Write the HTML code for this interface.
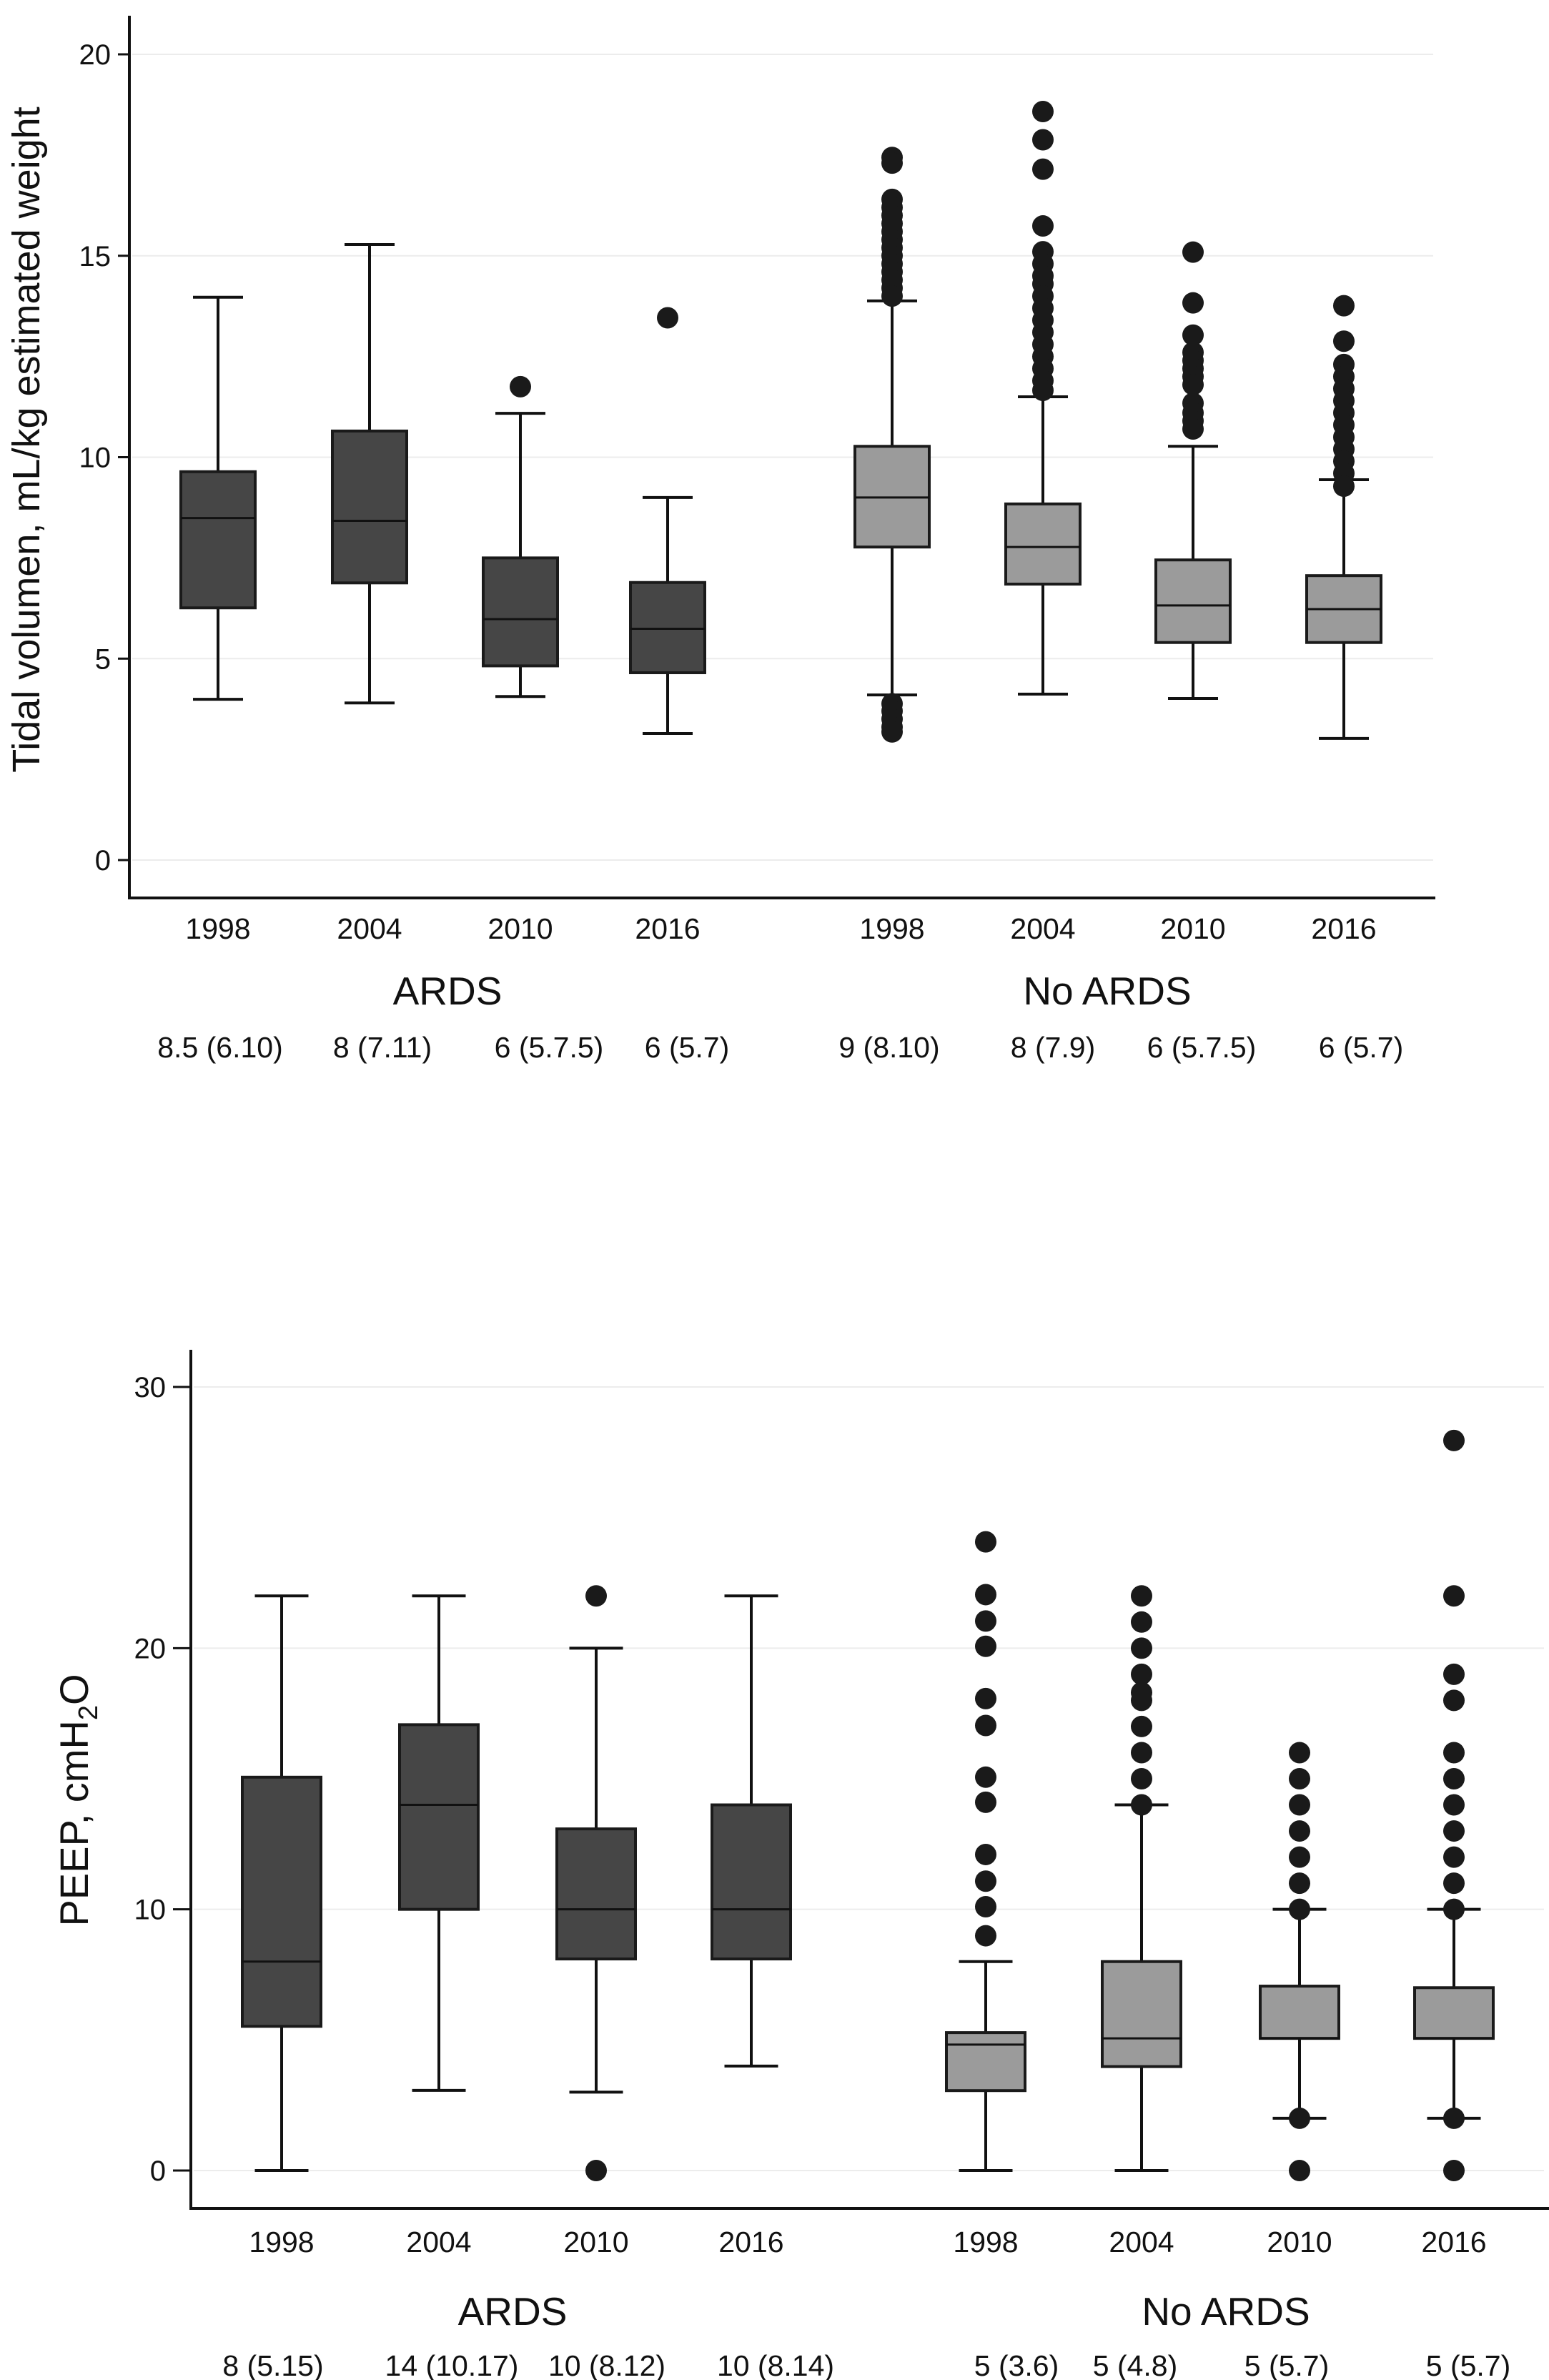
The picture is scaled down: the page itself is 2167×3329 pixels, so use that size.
<!DOCTYPE html>
<html><head><meta charset="utf-8"><style>
html,body{margin:0;padding:0;background:#fff;}
svg{display:block;font-family:"Liberation Sans",Arial,sans-serif;}
</style></head><body>
<svg id="chart" width="2167" height="3329" viewBox="0 0 2167 3329" xmlns="http://www.w3.org/2000/svg">
<rect width="2167" height="3329" fill="#fff"/>
<text x="0" y="0" font-size="54" text-anchor="middle" transform="translate(55,615) rotate(-90)" fill="#111">Tidal volumen, mL/kg estimated weight</text>
<text x="0" y="0" font-size="56" text-anchor="middle" transform="translate(123,2518) rotate(-90)" fill="#111">PEEP, cmH<tspan font-size="38" dy="13">2</tspan><tspan dy="-13">O</tspan></text>
</svg>
<script>
// ---------- Panel 1: Tidal volume ----------
const tvYears = ["1998","2004","2010","2016","1998","2004","2010","2016"];
const tvGroup = ["ARDS","ARDS","ARDS","ARDS","No ARDS","No ARDS","No ARDS","No ARDS"];
const tvLow = [3.99,3.9,4.06,3.14,4.1,4.12,4.01,3.02];
const tvQ1 = [6.26,6.88,4.82,4.65,7.77,6.85,5.4,5.4];
const tvMed = [8.49,8.42,5.98,5.74,9.0,7.77,6.32,6.23];
const tvQ3 = [9.64,10.65,7.5,6.89,10.27,8.84,7.45,7.06];
const tvHigh = [13.97,15.28,11.09,9.0,13.88,11.5,10.27,9.44];
const tvOutliers = [
  [], [], [11.75], [13.46],
  [17.44,17.3,16.4,16.2,16.0,15.8,15.6,15.4,15.2,15.0,14.8,14.6,14.4,14.2,14.0,3.88,3.7,3.5,3.3,3.18],
  [18.58,17.88,17.15,15.74,15.1,14.8,14.5,14.3,14.0,13.7,13.4,13.1,12.8,12.5,12.2,11.9,11.66],
  [15.09,13.83,13.03,12.6,12.4,12.2,12.0,11.8,11.34,11.1,10.9,10.7],
  [13.76,12.88,12.3,12.0,11.7,11.4,11.1,10.8,10.5,10.2,9.9,9.6,9.28]
];
const tvStats = ["8.5 (6.10)","8 (7.11)","6 (5.7.5)","6 (5.7)","9 (8.10)","8 (7.9)","6 (5.7.5)","6 (5.7)"];
const tvTicks = [0,5,10,15,20];

// ---------- Panel 2: PEEP ----------
const pYears = ["1998","2004","2010","2016","1998","2004","2010","2016"];
const pLow = [0,3.07,3,4,0,0,2,2];
const pQ1 = [5.52,10,8.1,8.1,3.06,3.98,5.06,5.06];
const pMed = [8,14,10,10,4.82,5.06,5.06,5.06];
const pQ3 = [15.06,17.07,13.08,14,5.28,8,7.06,7];
const pHigh = [22,22,20,22,8,14,10,10];
const pOutliers = [
  [], [], [22,0], [],
  [24.07,22.05,21.04,20.07,18.07,17.04,15.06,14.1,12.1,11.08,10.1,8.99],
  [22,21,20,19,18.3,18,17,16,15,14],
  [16,15,14,13,12,11,10,2,0],
  [27.95,22,19,18,16,15,14,13,12,11,10,2,0]
];
const pStats = ["8 (5.15)","14 (10.17)","10 (8.12)","10 (8.14)","5 (3.6)","5 (4.8)","5 (5.7)","5 (5.7)"];
const pTicks = [0,10,20,30];

const NS="http://www.w3.org/2000/svg";
const svg=document.getElementById('chart');
function mk(tag,attrs,parent){const e=document.createElementNS(NS,tag);for(const k in attrs)e.setAttribute(k,attrs[k]);(parent||svg).appendChild(e);return e;}

function panel(cfg){
  const g=mk('g',{});
  
  
  const y=v=>cfg.y0+(cfg.y1-cfg.y0)*(v-cfg.vmin)/(cfg.vmax-cfg.vmin);
  cfg.ticks.forEach(t=>{
    const gl=mk('line',{x1:cfg.axisX+4,x2:cfg.gridEnd,y1:y(t),y2:y(t),stroke:'#ececec','stroke-width':2},g);
    
    
    const tk=mk('line',{x1:cfg.axisX-cfg.tickLen,x2:cfg.axisX,y1:y(t),y2:y(t),stroke:'#111','stroke-width':3},g);
    
    
    const tl=mk('text',{x:cfg.axisX-cfg.tickLen-10,y:y(t)+14,'font-size':40,'text-anchor':'end',fill:'#111'},g);
    tl.textContent=String(t);
    
    
  });
  const ya=mk('line',{x1:cfg.axisX,x2:cfg.axisX,y1:cfg.axisTop,y2:cfg.axisY+2,stroke:'#111','stroke-width':4},g);
  
  
  const xa=mk('line',{x1:cfg.axisX-2,x2:cfg.axisEnd,y1:cfg.axisY,y2:cfg.axisY,stroke:'#111','stroke-width':4},g);
  
  
  const hw=cfg.boxW/2, cw=cfg.capW/2;
  cfg.centers.forEach((cx,i)=>{
    const fill=i<4?'#464646':'#9b9b9b';
    const bg=mk('g',{},g);
    
    
    mk('line',{x1:cx,x2:cx,y1:y(cfg.high[i]),y2:y(cfg.q3[i]),stroke:'#111','stroke-width':4},bg);
    mk('line',{x1:cx,x2:cx,y1:y(cfg.q1[i]),y2:y(cfg.low[i]),stroke:'#111','stroke-width':4},bg);
    mk('line',{x1:cx-cw,x2:cx+cw,y1:y(cfg.high[i]),y2:y(cfg.high[i]),stroke:'#111','stroke-width':4},bg);
    mk('line',{x1:cx-cw,x2:cx+cw,y1:y(cfg.low[i]),y2:y(cfg.low[i]),stroke:'#111','stroke-width':4},bg);
    mk('rect',{x:cx-hw,y:y(cfg.q3[i]),width:cfg.boxW,height:y(cfg.q1[i])-y(cfg.q3[i]),fill:fill,stroke:'#1a1a1a','stroke-width':4},bg);
    mk('line',{x1:cx-hw,x2:cx+hw,y1:y(cfg.med[i]),y2:y(cfg.med[i]),stroke:'#111','stroke-width':3},bg);
    cfg.out[i].forEach(v=>{
      const c=mk('circle',{cx:cx,cy:y(v),r:15,fill:'#1a1a1a'},bg);
      
      
    });
    const yl=mk('text',{x:cx,y:cfg.yearY,'font-size':41,'text-anchor':'middle',fill:'#111'},g);
    yl.textContent=cfg.years[i];
    
    
    const sl=mk('text',{x:cfg.statX[i],y:cfg.statY,'font-size':41,'text-anchor':'middle',fill:'#111'},g);
    sl.textContent=cfg.stats[i];
    
    
  });
  const a=mk('text',{x:cfg.grpX[0],y:cfg.grpY,'font-size':55,'text-anchor':'middle',fill:'#111'},g);
  a.textContent='ARDS';
  
  
  const b=mk('text',{x:cfg.grpX[1],y:cfg.grpY,'font-size':55,'text-anchor':'middle',fill:'#111'},g);
  b.textContent='No ARDS';
  
  
}

panel({name:'tidal-volume-panel',vmin:0,vmax:20,y0:1203,y1:76,ticks:tvTicks,axisX:181,axisTop:22,axisY:1256,axisEnd:2008,gridEnd:2005,tickLen:16,
  centers:[305,517,728,934,1248,1459,1669,1880],boxW:104,capW:70,years:tvYears,group:tvGroup,
  low:tvLow,q1:tvQ1,med:tvMed,q3:tvQ3,high:tvHigh,out:tvOutliers,stats:tvStats,
  yearY:1313,statY:1479,statX:[308,535,768,961,1244,1473,1681,1904],grpX:[626,1549],grpY:1405});

panel({name:'peep-panel',vmin:0,vmax:30,y0:3036,y1:1940,ticks:pTicks,axisX:267,axisTop:1888,axisY:3089,axisEnd:2167,gridEnd:2160,tickLen:25,
  centers:[394,614,834,1051,1379,1597,1818,2034],boxW:110,capW:75,years:pYears,group:tvGroup,
  low:pLow,q1:pQ1,med:pMed,q3:pQ3,high:pHigh,out:pOutliers,stats:pStats,
  yearY:3150,statY:3323,statX:[382,632,849,1085,1422,1588,1800,2054],grpX:[717,1715],grpY:3252});
</script>
</body></html>
